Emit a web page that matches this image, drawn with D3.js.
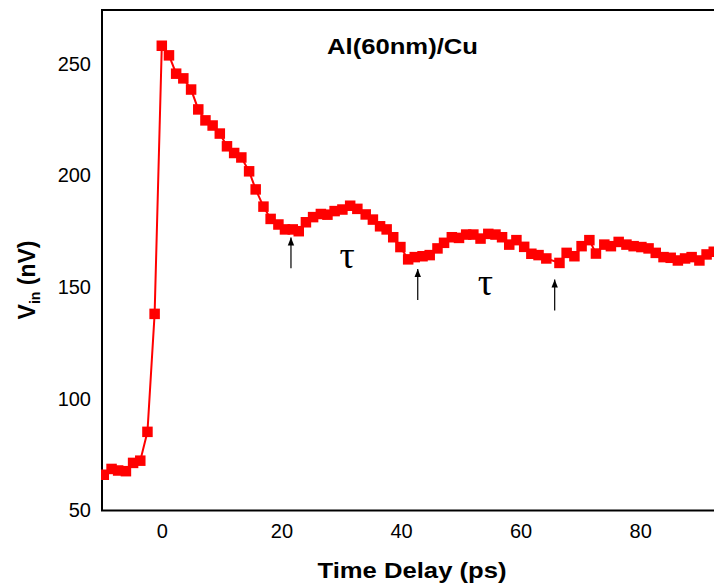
<!DOCTYPE html>
<html>
<head>
<meta charset="utf-8">
<script src="https://cdn.jsdelivr.net/npm/d3@7"></script>
<style>
  html, body { margin: 0; padding: 0; background: #fff; }
  svg { display: block; }
</style>
</head>
<body>
<div class="container"></div>
<script>
"use strict";

var width = 714;
var height = 586;

// Time delay (ps)
var delays = [
    -9.7, -8.4, -7.3, -6.0, -4.8, -3.6, -2.4, -1.2,
    0.0, 1.2, 2.4, 3.6, 4.9, 6.1, 7.3, 8.5, 9.7, 10.9, 12.1, 13.3,
    14.6, 15.7, 17.0, 18.2, 19.5, 20.6, 21.9, 22.9, 24.1, 25.3,
    26.6, 27.7, 28.9, 30.2, 31.5, 32.7, 34.1, 35.3, 36.5, 37.6,
    38.7, 39.9, 41.2, 42.3, 43.6, 44.8, 46.1, 47.2, 48.5, 49.7,
    50.9, 52.1, 53.3, 54.6, 55.8, 56.9, 58.1, 59.3, 60.6, 61.8,
    63.0, 64.3, 66.5, 67.7, 69.0, 70.2, 71.5, 72.6, 74.0, 75.1,
    76.4, 77.7, 78.9, 80.2, 81.4, 82.6, 83.9, 85.1, 86.3, 87.5,
    88.6, 89.9, 91.1, 92.3
];

// V_in (nV)
var voltages = [
    66.0, 68.6, 67.9, 67.6, 71.3, 72.3, 85.2, 138.0,
    258.0, 253.7, 245.5, 243.4, 238.4, 229.5, 224.6, 222.3, 218.7, 213.0, 210.0, 208.0,
    201.8, 193.7, 186.0, 180.5, 178.0, 175.8, 175.8, 175.0, 179.0, 181.3,
    182.7, 182.4, 184.0, 184.7, 186.4, 185.0, 182.5, 180.2, 177.2, 175.8,
    172.3, 167.9, 162.4, 163.4, 163.8, 164.3, 167.3, 169.8, 172.3, 172.0,
    173.5, 173.5, 171.7, 173.8, 173.5, 172.3, 169.0, 171.0, 168.0, 164.9,
    164.3, 162.8, 160.8, 165.3, 163.8, 168.3, 171.0, 165.0, 169.0, 168.3,
    170.2, 169.0, 168.3, 167.9, 167.3, 165.3, 163.4, 163.1, 161.9, 162.8,
    163.4, 161.9, 164.6, 165.8
];

var xTicks = [0, 20, 40, 60, 80];
var yTicks = [50, 100, 150, 200, 250];

// arrows marking the period tau: x, tip value, tail value
var arrowX = [21.6, 42.8, 65.7];
var arrowTip = [172.2, 158.1, 153.4];
var arrowTail = [158.4, 144.2, 139.5];

// tau labels (x, baseline value)
var tauX = [31.0, 54.1];
var tauY = [158.5, 146.5];

var data = delays.map(function(d, i) { return {t: d, v: voltages[i]}; });

var x = d3.scaleLinear().domain([-10, 100]).range([102, 102 + 110 * 5.98]);
var y = d3.scaleLinear().domain([50, 274]).range([510.5, 10]);

var svg = d3.select(".container").append("svg")
    .attr("width", width)
    .attr("height", height);

svg.append("defs").append("marker")
    .attr("id", "head")
    .attr("viewBox", "0 0 10 10")
    .attr("refX", 10)
    .attr("refY", 5)
    .attr("markerUnits", "userSpaceOnUse")
    .attr("markerWidth", 10)
    .attr("markerHeight", 8)
    .attr("orient", "auto")
    .append("path")
    .attr("d", "M0,1L10,5L0,9Z")
    .attr("fill", "#000");

// axes, no tick marks
var xAxis = svg.append("g")
    .attr("transform", "translate(0," + y(50) + ")")
    .call(d3.axisBottom(x).tickValues(xTicks).tickSize(0).tickPadding(13));
var yAxis = svg.append("g")
    .attr("transform", "translate(" + x(-10) + ",0)")
    .call(d3.axisLeft(y).tickValues(yTicks).tickSize(0).tickPadding(11));

[xAxis, yAxis].forEach(function(g) {
    g.select(".domain").remove();
    g.selectAll("text")
        .attr("font-family", "Arial, 'Liberation Sans', sans-serif")
        .attr("font-size", 20)
        .attr("fill", "#000");
});

// frame: left, bottom, top
svg.append("path")
    .attr("d", "M" + width + "," + y(274) + "H" + x(-10) + "V" + y(50) + "H" + width)
    .attr("fill", "none")
    .attr("stroke", "#000")
    .attr("stroke-width", 2);

// the curve
var line = d3.line()
    .x(function(d) { return x(d.t); })
    .y(function(d) { return y(d.v); });

var plot = svg.append("g");

plot.append("path")
    .datum(data)
    .attr("d", line)
    .attr("fill", "none")
    .attr("stroke", "#ff0000")
    .attr("stroke-width", 2);

var s = 10.5;
plot.selectAll(".pt")
    .data(data)
    .enter().append("rect")
    .attr("class", "pt")
    .attr("x", function(d) { return x(d.t) - s / 2; })
    .attr("y", function(d) { return y(d.v) - s / 2; })
    .attr("width", s)
    .attr("height", s)
    .attr("fill", "#ff0000");

// hide what spills left of the axis
svg.append("rect")
    .attr("x", 0).attr("y", 0)
    .attr("width", x(-10) - 1).attr("height", height)
    .attr("fill", "#fff");
svg.node().appendChild(yAxis.node());

// arrows
arrowX.forEach(function(a, i) {
    svg.append("line")
        .attr("x1", x(a)).attr("x2", x(a))
        .attr("y1", y(arrowTail[i])).attr("y2", y(arrowTip[i]))
        .attr("stroke", "#000")
        .attr("stroke-width", 1.2)
        .attr("marker-end", "url(#head)");
});

tauX.forEach(function(t, i) {
    svg.append("text")
        .attr("x", x(t))
        .attr("y", y(tauY[i]))
        .attr("text-anchor", "middle")
        .attr("font-family", "'Liberation Serif', 'Times New Roman', serif")
        .attr("font-size", 38)
        .text("τ");
});

// title
svg.append("text")
    .attr("x", 402.5)
    .attr("y", 54)
    .attr("text-anchor", "middle")
    .attr("font-family", "Arial, 'Liberation Sans', sans-serif")
    .attr("font-weight", "bold")
    .attr("font-size", 22)
    .attr("textLength", 151)
    .attr("lengthAdjust", "spacingAndGlyphs")
    .text("Al(60nm)/Cu");

// axis titles
svg.append("text")
    .attr("x", 412)
    .attr("y", 578)
    .attr("text-anchor", "middle")
    .attr("font-family", "Arial, 'Liberation Sans', sans-serif")
    .attr("font-weight", "bold")
    .attr("font-size", 22)
    .attr("textLength", 189)
    .attr("lengthAdjust", "spacingAndGlyphs")
    .text("Time Delay (ps)");

var yl = svg.append("text")
    .attr("transform", "translate(35,280) rotate(-90)")
    .attr("text-anchor", "middle")
    .attr("font-family", "Arial, 'Liberation Sans', sans-serif")
    .attr("font-weight", "bold")
    .attr("font-size", 23);
yl.append("tspan").text("V");
yl.append("tspan").attr("font-size", 14).attr("dy", 5).text("in");
yl.append("tspan").attr("dy", -5).text(" (nV)");
</script>
</body>
</html>
